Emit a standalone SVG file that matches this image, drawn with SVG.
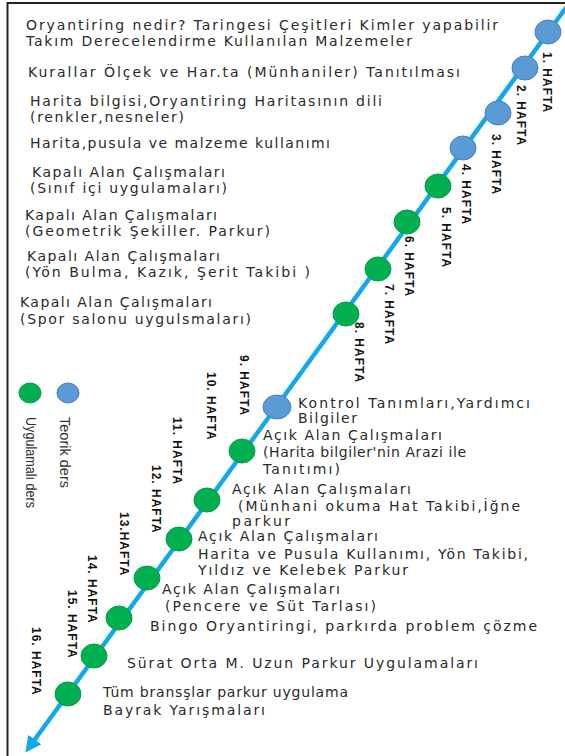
<svg xmlns="http://www.w3.org/2000/svg" width="565" height="756" viewBox="0 0 565 756">
<style>
.t{font-family:"DejaVu Sans","Liberation Sans",sans-serif;font-size:14px;fill:#2a2a2a}
.w{font-family:"Liberation Sans",Arial,sans-serif;font-size:12px;font-weight:bold;fill:#111;letter-spacing:1px}
.lg{font-family:"Liberation Sans",Arial,sans-serif;font-size:14px;fill:#333}
.b{fill:#5B9BD5;stroke:#4A7EBB;stroke-width:1}
.g{fill:#00B050;stroke:#0A9A48;stroke-width:1}
.ln{stroke:#12A8EC;stroke-width:4.5;fill:none}
</style>
<defs>
<marker id="ah" markerUnits="userSpaceOnUse" markerWidth="16" markerHeight="16" viewBox="0 0 16 16" refX="3" refY="8" orient="auto"><path d="M0,0 L16,8 L0,16 z" fill="#12A8EC"/></marker>
</defs>
<rect width="565" height="756" fill="#fff"/>
<g id="frame" stroke="#222" stroke-width="2" fill="none"><path d="M565,3 H7.5 V756"/></g>
<g id="connectors"><line class="ln" x1="573" y1="-2" x2="33" y2="742" marker-end="url(#ah)"/></g>

<g id="w1"><ellipse class="b" cx="548" cy="32" rx="13" ry="12"/><text class="w" transform="translate(543,52) rotate(90)">1. HAFTA</text>
<text class="t" x="26" y="30" textLength="472" lengthAdjust="spacing">Oryantiring nedir? Taringesi Çeşitleri Kimler yapabilir</text>
<text class="t" x="26" y="46" textLength="386" lengthAdjust="spacing">Takım Derecelendirme Kullanılan Malzemeler</text></g>
<g id="w2"><ellipse class="b" cx="525" cy="68" rx="13" ry="12"/><text class="w" transform="translate(517,85) rotate(90)">2. HAFTA</text>
<text class="t" x="28" y="77" textLength="432" lengthAdjust="spacing">Kurallar Ölçek  ve Har.ta (Münhaniler) Tanıtılması</text></g>
<g id="w3"><ellipse class="b" cx="498" cy="113" rx="13" ry="12"/><text class="w" transform="translate(492,134) rotate(90)">3. HAFTA</text>
<text class="t" x="30" y="106" textLength="352" lengthAdjust="spacing">Harita bilgisi,Oryantiring Haritasının dili</text>
<text class="t" x="30" y="122" textLength="154" lengthAdjust="spacing">(renkler,nesneler)</text></g>
<g id="w4"><ellipse class="b" cx="463" cy="148" rx="13" ry="12"/><text class="w" transform="translate(462,164) rotate(90)">4. HAFTA</text>
<text class="t" x="30" y="148" textLength="300" lengthAdjust="spacing">Harita,pusula ve malzeme kullanımı</text></g>
<g id="w5"><ellipse class="g" cx="438" cy="186" rx="13" ry="12"/><text class="w" transform="translate(442,207) rotate(90)">5. HAFTA</text>
<text class="t" x="32" y="177" textLength="193" lengthAdjust="spacing">Kapalı Alan Çalışmaları</text>
<text class="t" x="30" y="193" textLength="197" lengthAdjust="spacing">(Sınıf içi uygulamaları)</text></g>
<g id="w6"><ellipse class="g" cx="407" cy="222" rx="13" ry="12"/><text class="w" transform="translate(405,236) rotate(90)">6. HAFTA</text>
<text class="t" x="25" y="220" textLength="192" lengthAdjust="spacing">Kapalı Alan Çalışmaları</text>
<text class="t" x="25" y="236" textLength="245" lengthAdjust="spacing">(Geometrik  Şekiller. Parkur)</text></g>
<g id="w7"><ellipse class="g" cx="378" cy="269" rx="13" ry="12"/><text class="w" transform="translate(385,284) rotate(90)">7. HAFTA</text>
<text class="t" x="27" y="261" textLength="193" lengthAdjust="spacing">Kapalı Alan Çalışmaları</text>
<text class="t" x="25" y="277" textLength="285" lengthAdjust="spacing">(Yön Bulma, Kazık, Şerit Takibi )</text></g>
<g id="w8"><ellipse class="g" cx="346" cy="314" rx="13" ry="12"/><text class="w" transform="translate(355,322) rotate(90)">8. HAFTA</text>
<text class="t" x="20" y="307" textLength="192" lengthAdjust="spacing">Kapalı Alan Çalışmaları</text>
<text class="t" x="20" y="324" textLength="231" lengthAdjust="spacing">(Spor salonu  uygulsmaları)</text></g>
<g id="w9"><ellipse class="b" cx="277" cy="407" rx="14" ry="12"/><text class="w" transform="translate(240,355) rotate(90)">9. HAFTA</text>
<text class="t" x="298" y="408" textLength="232" lengthAdjust="spacing">Kontrol Tanımları,Yardımcı</text>
<text class="t" x="298" y="423" textLength="59" lengthAdjust="spacing">Bilgiler</text></g>
<g id="w10"><ellipse class="g" cx="242" cy="451" rx="13" ry="12"/><text class="w" transform="translate(207,372) rotate(90)">10. HAFTA</text>
<text class="t" x="263" y="440" textLength="179" lengthAdjust="spacing">Açık Alan Çalışmaları</text>
<text class="t" x="263" y="457" textLength="203" lengthAdjust="spacing">(Harita bilgiler'nin Arazi ile</text>
<text class="t" x="263" y="474" textLength="77" lengthAdjust="spacing">Tanıtımı)</text></g>
<g id="w11"><ellipse class="g" cx="207" cy="500" rx="13" ry="12"/><text class="w" transform="translate(173,417) rotate(90)">11. HAFTA</text>
<text class="t" x="232" y="494" textLength="179" lengthAdjust="spacing">Açık Alan Çalışmaları</text>
<text class="t" x="238" y="511" textLength="282" lengthAdjust="spacing">(Münhani  okuma Hat Takibi,İğne</text>
<text class="t" x="232" y="526" textLength="58" lengthAdjust="spacing">parkur</text></g>
<g id="w12"><ellipse class="g" cx="179" cy="539" rx="13" ry="12"/><text class="w" transform="translate(152,465) rotate(90)">12. HAFTA</text>
<text class="t" x="198" y="541" textLength="180" lengthAdjust="spacing">Açık Alan Çalışmaları</text>
<text class="t" x="198" y="559" textLength="330" lengthAdjust="spacing">Harita ve Pusula Kullanımı, Yön Takibi,</text>
<text class="t" x="198" y="575" textLength="210" lengthAdjust="spacing">Yıldız ve Kelebek Parkur</text></g>
<g id="w13"><ellipse class="g" cx="147" cy="578" rx="13" ry="12"/><text class="w" transform="translate(120,512) rotate(90)">13.HAFTA</text>
<text class="t" x="162" y="594" textLength="178" lengthAdjust="spacing">Açık Alan Çalışmaları</text>
<text class="t" x="165" y="611" textLength="211" lengthAdjust="spacing">(Pencere ve Süt Tarlası)</text></g>
<g id="w14"><ellipse class="g" cx="119" cy="618" rx="13" ry="12"/><text class="w" transform="translate(88,555) rotate(90)">14. HAFTA</text>
<text class="t" x="150" y="631" textLength="387" lengthAdjust="spacing">Bingo Oryantiringi, parkırda problem çözme</text></g>
<g id="w15"><ellipse class="g" cx="94" cy="656" rx="13" ry="12"/><text class="w" transform="translate(68,590) rotate(90)">15. HAFTA</text>
<text class="t" x="127" y="668" textLength="351" lengthAdjust="spacing">Sürat Orta M. Uzun Parkur Uygulamaları</text></g>
<g id="w16"><ellipse class="g" cx="68" cy="694" rx="13" ry="12"/><text class="w" transform="translate(32,627) rotate(90)">16. HAFTA</text>
<text class="t" x="103" y="697" textLength="245" lengthAdjust="spacing">Tüm bransşlar parkur uygulama</text>
<text class="t" x="103" y="715" textLength="162" lengthAdjust="spacing">Bayrak Yarışmaları</text></g>

<g id="legend">
<ellipse class="g" cx="30" cy="393" rx="11" ry="10"/>
<ellipse class="b" cx="68" cy="393" rx="11" ry="10"/>
<text class="lg" transform="translate(60,417) rotate(90)" textLength="71" lengthAdjust="spacingAndGlyphs">Teorik ders</text>
<text class="lg" transform="translate(26,417) rotate(90)" textLength="91" lengthAdjust="spacingAndGlyphs">Uygulamalı ders</text>
</g>
</svg>
